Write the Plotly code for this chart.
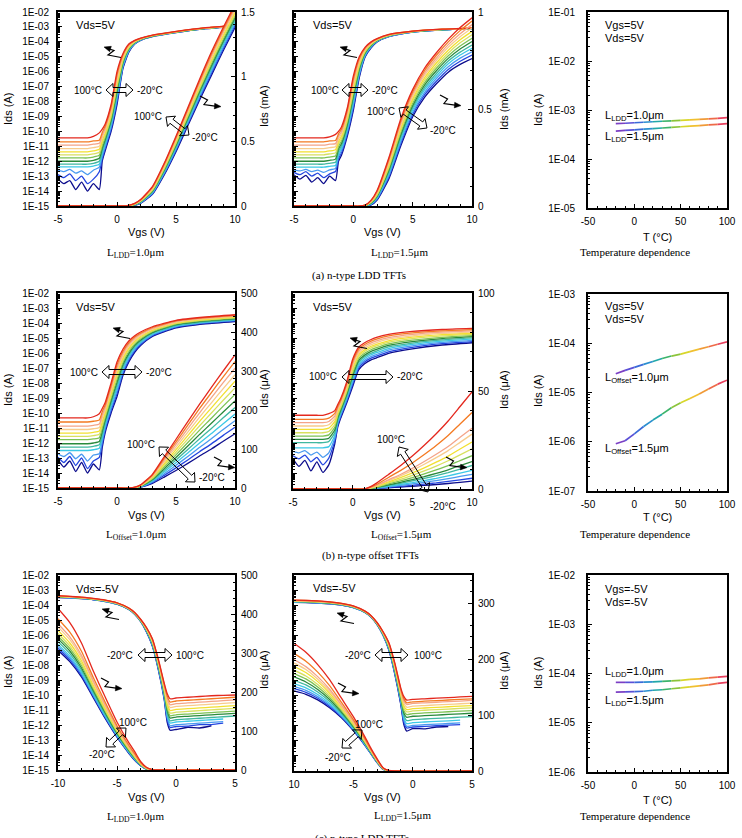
import plotly.graph_objects as go

W, H = 742, 838
SANS = "Liberation Sans, Arial, sans-serif"
SERIF = "Liberation Serif, Times New Roman, serif"

# ---------------- data ----------------
TEMPS = [-20, -10, 0, 10, 20, 30, 40, 50, 60, 70, 80, 90, 100]
CURVE_COLORS = ['#0c0c8c', '#2446e0', '#4a9af0', '#3cc8e6', '#40b8a0', '#2a8a3c', '#7cc254',
                '#d8e060', '#f2e030', '#f8cc8c', '#f4a488', '#f47a22', '#e4281e']
SEG_COLORS = ['#7b3fc4', '#5a4fd6', '#3a6ad8', '#2a8fcf', '#22a8a8', '#3cb46a',
              '#8cc43a', '#d8d62a', '#f0c030', '#f09a38', '#ee6a48', '#e8405e']

VGS_N = [-5, -4.5, -4, -3.5, -3, -2.5, -2, -1.5, -1.25, -1, -0.5, 0, 0.5, 1, 1.5, 2, 3, 5, 7.5, 10]
VGS_A_LIN = [-5, 0, 0.5, 1, 1.5, 2, 3, 4, 5, 6, 7, 8, 9, 10]
VGS_B_LIN = [-5, 0, 1, 1.5, 2, 3, 4, 5, 6, 7, 8, 9, 10]
VGS_P = [-10, -9, -8, -7, -6, -5, -4, -3.5, -3, -2.5, -2, -1.5, -1, -0.75, -0.5, 0, 1, 2, 3, 4, 5]
VGS_P_LIN = [-10, -9, -8, -7, -6, -5, -4, -3.5, -3, -2.5, -2, -1.5, 5]

# log10(Ids [A]) per temperature (-20 .. 100 C)
A1_LOG = [
    [-13.2, -13.5, -13.3, -13.9, -13.4, -14.0, -13.5, -13.9, -12.0, -11.3, -10.0, -8.2, -5.8, -4.7, -4.15, -3.9, -3.65, -3.38, -3.12, -2.97],
    [-12.9, -13.1, -12.85, -13.3, -13.0, -13.5, -13.2, -12.7, -11.82, -11.15, -9.85, -8.02, -5.72, -4.65, -4.13, -3.89, -3.64, -3.37, -3.11, -2.96],
    [-12.6, -12.7, -12.55, -12.8, -12.65, -12.9, -12.6, -12.4, -11.65, -11.0, -9.7, -7.83, -5.63, -4.61, -4.11, -3.88, -3.63, -3.37, -3.11, -2.96],
    [-12.38, -12.38, -12.38, -12.38, -12.38, -12.38, -12.32, -12.2, -11.47, -10.85, -9.55, -7.65, -5.55, -4.56, -4.09, -3.86, -3.62, -3.36, -3.1, -2.95],
    [-12.2, -12.2, -12.2, -12.2, -12.2, -12.2, -12.14, -12.0, -11.3, -10.7, -9.4, -7.47, -5.47, -4.52, -4.07, -3.85, -3.62, -3.35, -3.1, -2.95],
    [-12.0, -12.0, -12.0, -12.0, -12.0, -12.0, -11.94, -11.8, -11.12, -10.55, -9.25, -7.28, -5.38, -4.47, -4.05, -3.84, -3.61, -3.35, -3.09, -2.94],
    [-11.78, -11.78, -11.78, -11.78, -11.78, -11.78, -11.72, -11.6, -10.95, -10.4, -9.1, -7.1, -5.3, -4.43, -4.03, -3.83, -3.6, -3.34, -3.09, -2.94],
    [-11.57, -11.57, -11.57, -11.57, -11.57, -11.57, -11.51, -11.4, -10.77, -10.25, -8.95, -6.92, -5.22, -4.38, -4.0, -3.81, -3.59, -3.33, -3.08, -2.93],
    [-11.37, -11.37, -11.37, -11.37, -11.37, -11.37, -11.31, -11.2, -10.6, -10.1, -8.8, -6.73, -5.13, -4.33, -3.98, -3.8, -3.58, -3.33, -3.07, -2.92],
    [-11.15, -11.15, -11.15, -11.15, -11.15, -11.15, -11.09, -11.0, -10.42, -9.95, -8.65, -6.55, -5.05, -4.29, -3.96, -3.79, -3.57, -3.32, -3.07, -2.92],
    [-10.92, -10.92, -10.92, -10.92, -10.92, -10.92, -10.86, -10.8, -10.25, -9.8, -8.5, -6.37, -4.97, -4.24, -3.94, -3.78, -3.57, -3.31, -3.06, -2.91],
    [-10.7, -10.7, -10.7, -10.7, -10.7, -10.7, -10.64, -10.6, -10.07, -9.65, -8.35, -6.18, -4.88, -4.2, -3.92, -3.76, -3.56, -3.31, -3.06, -2.91],
    [-10.43, -10.43, -10.43, -10.43, -10.43, -10.43, -10.33, -10.1, -9.85, -9.5, -8.2, -6.0, -4.8, -4.15, -3.9, -3.75, -3.55, -3.3, -3.05, -2.9],
]
# Ids [mA]
A1_LIN = [
    [0, 0, 0, 0, 0.005, 0.02, 0.09, 0.24, 0.42, 0.62, 0.82, 1.01, 1.2, 1.38],
    [0, 0, 0, 0, 0.006, 0.023, 0.095, 0.248, 0.43, 0.632, 0.833, 1.025, 1.215, 1.395],
    [0, 0, 0, 0.001, 0.008, 0.025, 0.1, 0.255, 0.44, 0.643, 0.847, 1.04, 1.23, 1.41],
    [0, 0, 0, 0.001, 0.009, 0.028, 0.105, 0.263, 0.45, 0.655, 0.86, 1.055, 1.245, 1.425],
    [0, 0, 0, 0.002, 0.01, 0.03, 0.11, 0.27, 0.46, 0.667, 0.873, 1.07, 1.26, 1.44],
    [0, 0, 0, 0.002, 0.011, 0.033, 0.115, 0.278, 0.47, 0.678, 0.887, 1.085, 1.275, 1.455],
    [0, 0, 0, 0.003, 0.013, 0.035, 0.12, 0.285, 0.48, 0.69, 0.9, 1.1, 1.29, 1.47],
    [0, 0, 0, 0.003, 0.014, 0.038, 0.125, 0.293, 0.49, 0.702, 0.913, 1.115, 1.305, 1.485],
    [0, 0, 0, 0.003, 0.015, 0.04, 0.13, 0.3, 0.5, 0.713, 0.927, 1.13, 1.32, 1.5],
    [0, 0, 0, 0.004, 0.016, 0.043, 0.135, 0.308, 0.51, 0.725, 0.94, 1.145, 1.335, 1.515],
    [0, 0, 0, 0.004, 0.018, 0.045, 0.14, 0.315, 0.52, 0.737, 0.953, 1.16, 1.35, 1.53],
    [0, 0, 0, 0.005, 0.019, 0.048, 0.145, 0.323, 0.53, 0.748, 0.967, 1.175, 1.365, 1.545],
    [0, 0, 0, 0.005, 0.02, 0.05, 0.15, 0.33, 0.54, 0.76, 0.98, 1.19, 1.38, 1.56],
]
A2_LOG = [
    [-12.9, -13.2, -12.95, -13.4, -13.1, -13.5, -13.0, -13.3, -12.0, -11.6, -10.3, -8.6, -6.4, -5.0, -4.4, -4.0, -3.65, -3.35, -3.2, -3.12],
    [-12.75, -12.9, -12.7, -13.0, -12.8, -13.1, -12.85, -12.69, -11.83, -11.44, -10.14, -8.41, -6.28, -4.95, -4.37, -3.98, -3.64, -3.34, -3.2, -3.12],
    [-12.6, -12.65, -12.55, -12.7, -12.6, -12.75, -12.58, -12.48, -11.67, -11.28, -9.98, -8.22, -6.17, -4.89, -4.33, -3.96, -3.63, -3.34, -3.19, -3.11],
    [-12.4, -12.4, -12.4, -12.4, -12.4, -12.4, -12.34, -12.28, -11.5, -11.13, -9.83, -8.03, -6.05, -4.84, -4.3, -3.95, -3.61, -3.33, -3.19, -3.11],
    [-12.2, -12.2, -12.2, -12.2, -12.2, -12.2, -12.14, -12.07, -11.33, -10.97, -9.67, -7.83, -5.93, -4.78, -4.27, -3.93, -3.6, -3.33, -3.18, -3.11],
    [-12.0, -12.0, -12.0, -12.0, -12.0, -12.0, -11.94, -11.86, -11.17, -10.81, -9.51, -7.64, -5.82, -4.73, -4.23, -3.91, -3.59, -3.32, -3.18, -3.1],
    [-11.78, -11.78, -11.78, -11.78, -11.78, -11.78, -11.72, -11.65, -11.0, -10.65, -9.35, -7.45, -5.7, -4.68, -4.2, -3.89, -3.58, -3.32, -3.18, -3.1],
    [-11.57, -11.57, -11.57, -11.57, -11.57, -11.57, -11.51, -11.44, -10.83, -10.49, -9.19, -7.26, -5.58, -4.62, -4.17, -3.87, -3.56, -3.31, -3.17, -3.1],
    [-11.37, -11.37, -11.37, -11.37, -11.37, -11.37, -11.31, -11.23, -10.67, -10.33, -9.03, -7.07, -5.47, -4.57, -4.13, -3.85, -3.55, -3.3, -3.17, -3.09],
    [-11.15, -11.15, -11.15, -11.15, -11.15, -11.15, -11.09, -11.03, -10.5, -10.18, -8.88, -6.88, -5.35, -4.51, -4.1, -3.84, -3.54, -3.3, -3.16, -3.09],
    [-10.92, -10.92, -10.92, -10.92, -10.92, -10.92, -10.86, -10.82, -10.33, -10.02, -8.72, -6.68, -5.23, -4.46, -4.07, -3.82, -3.53, -3.29, -3.16, -3.08],
    [-10.7, -10.7, -10.7, -10.7, -10.7, -10.7, -10.64, -10.61, -10.17, -9.86, -8.56, -6.49, -5.12, -4.4, -4.03, -3.8, -3.51, -3.29, -3.15, -3.08],
    [-10.43, -10.43, -10.43, -10.43, -10.43, -10.43, -10.36, -10.2, -10.0, -9.7, -8.4, -6.3, -5.0, -4.35, -4.0, -3.78, -3.5, -3.28, -3.15, -3.08],
]
A2_LIN = [
    [0, 0, 0, 0, 0.005, 0.03, 0.14, 0.31, 0.46, 0.56, 0.63, 0.69, 0.73, 0.76],
    [0, 0, 0, 0, 0.007, 0.034, 0.149, 0.322, 0.472, 0.573, 0.643, 0.704, 0.746, 0.778],
    [0, 0, 0, 0.001, 0.009, 0.038, 0.158, 0.333, 0.483, 0.585, 0.657, 0.718, 0.762, 0.795],
    [0, 0, 0, 0.001, 0.011, 0.043, 0.168, 0.345, 0.495, 0.598, 0.67, 0.733, 0.778, 0.813],
    [0, 0, 0, 0.002, 0.013, 0.047, 0.177, 0.357, 0.507, 0.61, 0.683, 0.747, 0.793, 0.83],
    [0, 0, 0, 0.002, 0.015, 0.051, 0.186, 0.368, 0.518, 0.623, 0.697, 0.761, 0.809, 0.848],
    [0, 0, 0, 0.003, 0.018, 0.055, 0.195, 0.38, 0.53, 0.635, 0.71, 0.775, 0.825, 0.865],
    [0, 0, 0, 0.003, 0.02, 0.059, 0.204, 0.392, 0.542, 0.648, 0.723, 0.789, 0.841, 0.883],
    [0, 0, 0, 0.003, 0.022, 0.063, 0.213, 0.403, 0.553, 0.66, 0.737, 0.803, 0.857, 0.9],
    [0, 0, 0, 0.004, 0.024, 0.068, 0.223, 0.415, 0.565, 0.673, 0.75, 0.818, 0.873, 0.918],
    [0, 0, 0, 0.004, 0.026, 0.072, 0.232, 0.427, 0.577, 0.685, 0.763, 0.832, 0.888, 0.935],
    [0, 0, 0, 0.005, 0.028, 0.076, 0.241, 0.438, 0.588, 0.698, 0.777, 0.846, 0.904, 0.953],
    [0, 0, 0, 0.005, 0.03, 0.08, 0.25, 0.45, 0.6, 0.71, 0.79, 0.86, 0.92, 0.97],
]
B1_LOG = [
    [-13.1, -13.6, -13.2, -13.9, -13.3, -14.0, -13.4, -13.8, -12.3, -11.3, -10.0, -8.9, -7.5, -6.6, -5.95, -5.5, -4.9, -4.32, -4.05, -3.9],
    [-12.95, -13.3, -12.9, -13.5, -13.0, -13.7, -13.2, -12.96, -12.08, -11.13, -9.83, -8.71, -7.35, -6.48, -5.86, -5.43, -4.85, -4.28, -4.01, -3.86],
    [-12.72, -12.9, -12.65, -13.05, -12.75, -13.2, -12.8, -12.72, -11.87, -10.97, -9.67, -8.52, -7.21, -6.37, -5.77, -5.35, -4.79, -4.24, -3.98, -3.83],
    [-12.5, -12.5, -12.5, -12.5, -12.5, -12.5, -12.45, -12.35, -11.65, -10.8, -9.5, -8.33, -7.06, -6.25, -5.68, -5.28, -4.74, -4.2, -3.94, -3.79],
    [-12.27, -12.27, -12.27, -12.27, -12.27, -12.27, -12.22, -12.12, -11.43, -10.63, -9.33, -8.13, -6.92, -6.13, -5.58, -5.2, -4.68, -4.15, -3.9, -3.75],
    [-12.05, -12.05, -12.05, -12.05, -12.05, -12.05, -12.0, -11.9, -11.22, -10.47, -9.17, -7.94, -6.77, -6.02, -5.49, -5.13, -4.63, -4.11, -3.86, -3.71],
    [-11.78, -11.78, -11.78, -11.78, -11.78, -11.78, -11.73, -11.65, -11.0, -10.3, -9.0, -7.75, -6.63, -5.9, -5.4, -5.05, -4.58, -4.07, -3.83, -3.68],
    [-11.56, -11.56, -11.56, -11.56, -11.56, -11.56, -11.51, -11.42, -10.78, -10.13, -8.83, -7.56, -6.48, -5.78, -5.31, -4.98, -4.52, -4.03, -3.79, -3.64],
    [-11.34, -11.34, -11.34, -11.34, -11.34, -11.34, -11.29, -11.2, -10.57, -9.97, -8.67, -7.37, -6.33, -5.67, -5.22, -4.9, -4.47, -3.99, -3.75, -3.6],
    [-11.1, -11.1, -11.1, -11.1, -11.1, -11.1, -11.05, -10.97, -10.35, -9.8, -8.5, -7.18, -6.19, -5.55, -5.13, -4.83, -4.41, -3.95, -3.71, -3.56],
    [-10.87, -10.87, -10.87, -10.87, -10.87, -10.87, -10.82, -10.74, -10.13, -9.63, -8.33, -6.98, -6.04, -5.43, -5.03, -4.75, -4.36, -3.9, -3.68, -3.53],
    [-10.6, -10.6, -10.6, -10.6, -10.6, -10.6, -10.55, -10.47, -9.92, -9.47, -8.17, -6.79, -5.9, -5.32, -4.94, -4.68, -4.3, -3.86, -3.64, -3.49],
    [-10.33, -10.33, -10.33, -10.33, -10.33, -10.33, -10.25, -10.05, -9.7, -9.3, -8.0, -6.6, -5.75, -5.2, -4.85, -4.6, -4.25, -3.82, -3.6, -3.45],
]
# Ids [uA]
B1_LIN = [
    [0, 0, 0, 0, 2, 12, 28, 45, 63, 82, 100, 120, 139],
    [0, 0, 0, 0.2, 2.5, 13.9, 32.3, 51.7, 71.9, 93.1, 113.2, 135, 155.8],
    [0, 0, 0, 0.3, 3, 15.8, 36.7, 58.3, 80.8, 104.2, 126.3, 150, 172.7],
    [0, 0, 0, 0.5, 3.5, 17.8, 41, 65, 89.8, 115.3, 139.5, 165, 189.5],
    [0, 0, 0, 0.7, 4, 19.7, 45.3, 71.7, 98.7, 126.3, 152.7, 180, 206.3],
    [0, 0, 0, 0.8, 4.5, 21.6, 49.7, 78.3, 107.6, 137.4, 165.8, 195, 223.2],
    [0, 0, 0, 1, 5, 23.5, 54, 85, 116.5, 148.5, 179, 210, 240],
    [0, 0, 0, 1.2, 5.5, 25.4, 58.3, 91.7, 125.4, 159.6, 192.2, 225, 256.8],
    [0, 0, 0, 1.3, 6, 27.3, 62.7, 98.3, 134.3, 170.7, 205.3, 240, 273.7],
    [0, 0, 0, 1.5, 6.5, 29.3, 67, 105, 143.3, 181.8, 218.5, 255, 290.5],
    [0, 0, 0, 1.7, 7, 31.2, 71.3, 111.7, 152.2, 192.8, 231.7, 270, 307.3],
    [0, 0, 0, 1.8, 7.5, 33.1, 75.7, 118.3, 161.1, 203.9, 244.8, 285, 324.2],
    [0, 0, 0, 2, 8, 35, 80, 125, 170, 215, 258, 300, 341],
]
B2_LOG = [
    [-13.0, -13.5, -13.1, -13.8, -13.2, -13.9, -13.4, -12.0, -10.9, -10.3, -9.3, -8.2, -7.1, -6.7, -6.45, -6.3, -6.0, -5.7, -5.45, -5.3],
    [-12.8, -13.0, -12.75, -13.2, -12.9, -13.4, -12.95, -11.82, -10.78, -10.19, -9.18, -8.05, -6.98, -6.58, -6.34, -6.19, -5.9, -5.6, -5.36, -5.22],
    [-12.5, -12.6, -12.45, -12.75, -12.55, -12.9, -12.6, -11.63, -10.65, -10.08, -9.07, -7.9, -6.85, -6.47, -6.23, -6.08, -5.79, -5.51, -5.28, -5.14],
    [-12.27, -12.27, -12.27, -12.27, -12.27, -12.27, -12.19, -11.45, -10.53, -9.98, -8.95, -7.75, -6.73, -6.35, -6.11, -5.96, -5.69, -5.41, -5.19, -5.06],
    [-11.93, -11.93, -11.93, -11.93, -11.93, -11.93, -11.85, -11.27, -10.4, -9.87, -8.83, -7.6, -6.6, -6.23, -6.0, -5.85, -5.58, -5.32, -5.11, -4.98],
    [-11.71, -11.71, -11.71, -11.71, -11.71, -11.71, -11.63, -11.08, -10.28, -9.76, -8.72, -7.45, -6.48, -6.12, -5.89, -5.74, -5.48, -5.22, -5.02, -4.9],
    [-11.49, -11.49, -11.49, -11.49, -11.49, -11.49, -11.41, -10.9, -10.15, -9.65, -8.6, -7.3, -6.35, -6.0, -5.78, -5.63, -5.38, -5.13, -4.94, -4.83],
    [-11.27, -11.27, -11.27, -11.27, -11.27, -11.27, -11.19, -10.72, -10.03, -9.54, -8.48, -7.15, -6.23, -5.88, -5.66, -5.51, -5.27, -5.03, -4.85, -4.75],
    [-11.04, -11.04, -11.04, -11.04, -11.04, -11.04, -10.96, -10.53, -9.9, -9.43, -8.37, -7.0, -6.1, -5.77, -5.55, -5.4, -5.17, -4.93, -4.76, -4.67],
    [-10.82, -10.82, -10.82, -10.82, -10.82, -10.82, -10.74, -10.35, -9.78, -9.33, -8.25, -6.85, -5.98, -5.65, -5.44, -5.29, -5.06, -4.84, -4.68, -4.59],
    [-10.6, -10.6, -10.6, -10.6, -10.6, -10.6, -10.52, -10.17, -9.65, -9.22, -8.13, -6.7, -5.85, -5.53, -5.33, -5.18, -4.96, -4.74, -4.59, -4.51],
    [-10.38, -10.38, -10.38, -10.38, -10.38, -10.38, -10.3, -9.98, -9.53, -9.11, -8.02, -6.55, -5.73, -5.42, -5.21, -5.06, -4.85, -4.65, -4.51, -4.43],
    [-10.11, -10.11, -10.11, -10.11, -10.11, -10.11, -10.0, -9.8, -9.4, -9.0, -7.9, -6.4, -5.6, -5.3, -5.1, -4.95, -4.75, -4.55, -4.42, -4.35],
]
B2_LIN = [
    [0, 0, 0, 0.1, 0.24, 0.6, 1.0, 1.4, 1.8, 2.3, 2.8, 3.4, 4],
    [0, 0, 0, 0.14, 0.33, 0.8, 1.3, 1.9, 2.5, 3.1, 3.9, 4.7, 5.5],
    [0, 0, 0, 0.19, 0.45, 1.1, 1.8, 2.6, 3.4, 4.3, 5.3, 6.4, 7.5],
    [0, 0, 0, 0.24, 0.57, 1.4, 2.3, 3.2, 4.3, 5.4, 6.7, 8.1, 9.5],
    [0, 0, 0, 0.3, 0.72, 1.8, 2.9, 4.1, 5.4, 6.8, 8.4, 10.2, 12],
    [0, 0, 0, 0.35, 0.84, 2.1, 3.4, 4.8, 6.3, 8.0, 9.8, 11.9, 14],
    [0, 0, 0, 0.4, 1.0, 2.6, 4.1, 5.8, 7.7, 9.7, 11.9, 14.5, 17],
    [0, 0, 0, 0.5, 1.2, 3.1, 4.9, 7.0, 9.2, 11.7, 14.4, 17.4, 20.5],
    [0, 0, 0, 0.6, 1.4, 3.6, 5.8, 8.2, 10.8, 13.7, 16.8, 20.4, 24],
    [0, 0, 0, 0.7, 1.7, 4.2, 6.7, 9.5, 12.6, 16.0, 19.6, 23.8, 28],
    [0, 0, 0, 0.8, 1.9, 4.7, 7.4, 10.5, 14.0, 17.7, 21.7, 26.4, 31],
    [0, 0, 0, 1.0, 2.3, 5.9, 9.4, 13.3, 17.6, 22.2, 27.3, 33.2, 39],
    [0, 0, 0, 1.2, 3.0, 7.4, 11.9, 16.8, 22.3, 28.2, 34.7, 42.1, 49.5],
]
C1_LOG = [
    [-3.5, -3.53, -3.58, -3.65, -3.77, -3.95, -4.3, -4.62, -5.1, -5.8, -6.75, -8.3, -10.3, -11.8, -12.35, -12.3, -12.15, -12.2, -12.05, None, None],
    [-3.49, -3.52, -3.57, -3.64, -3.76, -3.94, -4.29, -4.61, -5.09, -5.78, -6.71, -8.24, -10.21, -11.64, -12.17, -12.1, -12.08, -11.98, -11.97, -11.88, None],
    [-3.48, -3.51, -3.56, -3.64, -3.75, -3.93, -4.28, -4.6, -5.08, -5.75, -6.67, -8.18, -10.12, -11.48, -12.05, -11.98, -11.93, -11.88, -11.83, -11.78, None],
    [-3.47, -3.5, -3.56, -3.63, -3.75, -3.93, -4.28, -4.59, -5.06, -5.73, -6.63, -8.13, -10.03, -11.33, -11.87, -11.8, -11.75, -11.7, -11.65, -11.6, None],
    [-3.46, -3.49, -3.55, -3.62, -3.74, -3.92, -4.27, -4.58, -5.05, -5.7, -6.58, -8.07, -9.93, -11.17, -11.72, -11.65, -11.6, -11.55, -11.5, -11.45, -11.4],
    [-3.45, -3.48, -3.54, -3.61, -3.73, -3.91, -4.26, -4.57, -5.04, -5.68, -6.54, -8.01, -9.84, -11.01, -11.54, -11.47, -11.42, -11.37, -11.32, -11.27, -11.22],
    [-3.44, -3.48, -3.53, -3.61, -3.72, -3.9, -4.25, -4.56, -5.03, -5.65, -6.5, -7.95, -9.75, -10.85, -11.39, -11.32, -11.27, -11.22, -11.17, -11.12, -11.07],
    [-3.43, -3.47, -3.52, -3.6, -3.71, -3.89, -4.24, -4.55, -5.01, -5.63, -6.46, -7.89, -9.66, -10.69, -11.21, -11.14, -11.09, -11.04, -10.99, -10.94, -10.89],
    [-3.42, -3.46, -3.51, -3.59, -3.7, -3.88, -4.23, -4.54, -5.0, -5.6, -6.42, -7.83, -9.57, -10.53, -11.03, -10.96, -10.91, -10.86, -10.81, -10.76, -10.71],
    [-3.41, -3.45, -3.51, -3.58, -3.7, -3.88, -4.23, -4.53, -4.99, -5.58, -6.38, -7.78, -9.48, -10.38, -10.83, -10.76, -10.71, -10.66, -10.61, -10.56, -10.51],
    [-3.4, -3.44, -3.5, -3.58, -3.69, -3.87, -4.22, -4.52, -4.98, -5.55, -6.33, -7.72, -9.38, -10.22, -10.65, -10.58, -10.53, -10.48, -10.43, -10.38, -10.33],
    [-3.39, -3.43, -3.49, -3.57, -3.68, -3.86, -4.21, -4.51, -4.96, -5.53, -6.29, -7.66, -9.29, -10.06, -10.47, -10.4, -10.35, -10.3, -10.25, -10.2, -10.15],
    [-3.38, -3.42, -3.48, -3.56, -3.67, -3.85, -4.2, -4.5, -4.95, -5.5, -6.25, -7.6, -9.2, -9.9, -10.25, -10.2, -10.15, -10.1, -10.05, -10.02, -10.0],
]
C1_LIN = [
    [307, 278, 238, 185, 132, 84, 43, 25, 11, 2, 0, 0, 0],
    [312, 282.7, 242.1, 188.2, 134.6, 85.8, 44.3, 26, 11.5, 2.2, 0, 0, 0],
    [317, 287.3, 246.1, 191.3, 137.1, 87.6, 45.5, 27, 12, 2.5, 0.1, 0, 0],
    [322, 292, 250.2, 194.5, 139.7, 89.5, 46.8, 28.1, 12.5, 2.7, 0.1, 0, 0],
    [329, 298.6, 255.9, 199, 143.3, 92, 48.6, 29.5, 13.3, 3, 0.2, 0, 0],
    [336, 305.1, 261.6, 203.4, 146.9, 94.6, 50.3, 31, 14, 3.4, 0.3, 0, 0],
    [343, 311.6, 267.2, 207.8, 150.5, 97.1, 52.1, 32.4, 14.7, 3.7, 0.3, 0, 0],
    [350, 318.2, 273, 212.3, 154.1, 99.7, 53.9, 33.8, 15.4, 4, 0.4, 0, 0],
    [358, 325.7, 279.5, 217.4, 158.2, 102.6, 55.9, 35.5, 16.2, 4.4, 0.5, 0, 0],
    [367, 334.1, 286.8, 223.1, 162.9, 105.9, 58.1, 37.3, 17.2, 4.8, 0.6, 0, 0],
    [375, 341.6, 293.3, 228.2, 167, 108.8, 60.2, 39, 18, 5.2, 0.6, 0, 0],
    [388, 353.7, 303.9, 236.5, 173.6, 113.5, 63.4, 41.7, 19.3, 5.8, 0.8, 0, 0],
    [414, 378, 325, 253, 187, 123, 70, 47, 22, 7, 1, 0, 0],
]
C2_LOG = [
    [-3.82, -3.83, -3.86, -3.91, -4.0, -4.17, -4.5, -4.8, -5.3, -6.0, -7.0, -8.6, -10.6, -11.9, -12.35, -12.19, -12.2, -12.08, -12.05, None, None],
    [-3.81, -3.82, -3.85, -3.9, -3.99, -4.16, -4.49, -4.79, -5.29, -5.98, -6.96, -8.54, -10.51, -11.75, -12.15, -12.08, -12.04, -12.0, -11.96, -11.92, None],
    [-3.79, -3.81, -3.84, -3.89, -3.98, -4.15, -4.48, -4.78, -5.28, -5.96, -6.92, -8.48, -10.42, -11.59, -12.04, -11.97, -11.93, -11.89, -11.85, -11.81, None],
    [-3.78, -3.79, -3.83, -3.88, -3.97, -4.14, -4.48, -4.78, -5.26, -5.94, -6.88, -8.41, -10.33, -11.44, -11.86, -11.79, -11.75, -11.71, -11.67, -11.63, None],
    [-3.77, -3.78, -3.81, -3.87, -3.96, -4.13, -4.47, -4.77, -5.25, -5.92, -6.83, -8.35, -10.23, -11.28, -11.66, -11.59, -11.55, -11.51, -11.47, -11.43, -11.39],
    [-3.75, -3.77, -3.8, -3.86, -3.95, -4.12, -4.46, -4.76, -5.24, -5.9, -6.79, -8.29, -10.14, -11.13, -11.44, -11.37, -11.33, -11.29, -11.25, -11.21, -11.17],
    [-3.74, -3.76, -3.79, -3.85, -3.94, -4.11, -4.45, -4.75, -5.23, -5.88, -6.75, -8.23, -10.05, -10.98, -11.26, -11.19, -11.15, -11.11, -11.07, -11.03, -10.99],
    [-3.73, -3.74, -3.78, -3.83, -3.93, -4.1, -4.44, -4.74, -5.21, -5.85, -6.71, -8.16, -9.96, -10.82, -11.08, -11.01, -10.97, -10.93, -10.89, -10.85, -10.81],
    [-3.71, -3.73, -3.77, -3.82, -3.92, -4.09, -4.43, -4.73, -5.2, -5.83, -6.67, -8.1, -9.87, -10.67, -10.93, -10.86, -10.82, -10.78, -10.74, -10.7, -10.66],
    [-3.7, -3.72, -3.76, -3.81, -3.91, -4.08, -4.43, -4.73, -5.19, -5.81, -6.63, -8.04, -9.78, -10.51, -10.77, -10.7, -10.66, -10.62, -10.58, -10.54, -10.5],
    [-3.69, -3.71, -3.74, -3.8, -3.9, -4.07, -4.42, -4.72, -5.18, -5.79, -6.58, -7.98, -9.68, -10.36, -10.59, -10.52, -10.48, -10.44, -10.4, -10.36, -10.32],
    [-3.67, -3.69, -3.73, -3.79, -3.89, -4.06, -4.41, -4.71, -5.16, -5.77, -6.54, -7.91, -9.59, -10.2, -10.48, -10.41, -10.37, -10.33, -10.29, -10.25, -10.21],
    [-3.66, -3.68, -3.72, -3.78, -3.88, -4.05, -4.4, -4.7, -5.15, -5.75, -6.5, -7.85, -9.5, -10.05, -10.3, -10.25, -10.21, -10.17, -10.13, -10.09, -10.05],
]
C2_LIN = [
    [143, 137, 127, 113, 95, 72, 45, 30, 15, 3, 0, 0, 0],
    [147, 140.5, 130, 115.4, 96.6, 73.2, 45.7, 30.5, 15.3, 3.1, 0, 0, 0],
    [151, 144, 132.9, 117.7, 98.3, 74.4, 46.4, 30.9, 15.7, 3.3, 0.1, 0, 0],
    [156, 148.5, 136.6, 120.7, 100.4, 75.8, 47.3, 31.5, 16.1, 3.5, 0.2, 0, 0],
    [162, 153.8, 141.1, 124.2, 102.8, 77.6, 48.4, 32.2, 16.6, 3.7, 0.2, 0, 0],
    [168, 159, 145.5, 127.7, 105.3, 79.4, 49.4, 32.9, 17.1, 3.9, 0.3, 0, 0],
    [174, 164.4, 150, 131.3, 107.8, 81.1, 50.5, 33.7, 17.6, 4.1, 0.4, 0, 0],
    [180, 169.6, 154.4, 134.8, 110.2, 82.9, 51.5, 34.4, 18, 4.3, 0.4, 0, 0],
    [187, 175.9, 159.6, 138.9, 113.1, 85, 52.8, 35.2, 18.6, 4.6, 0.5, 0, 0],
    [193, 181.1, 164, 142.4, 115.6, 86.7, 53.8, 35.9, 19.1, 4.8, 0.6, 0, 0],
    [199, 186.4, 168.5, 146, 118.1, 88.5, 54.9, 36.6, 19.6, 5, 0.7, 0, 0],
    [210, 196.1, 176.6, 152.4, 122.6, 91.7, 56.8, 37.9, 20.5, 5.4, 0.8, 0, 0],
    [228, 212, 190, 163, 130, 97, 60, 40, 22, 6, 1, 0, 0],
]
# temperature dependence, log10(Ids [A])
A3_LDD10 = [-3.28, -3.27, -3.26, -3.25, -3.24, -3.23, -3.22, -3.21, -3.2, -3.19, -3.18, -3.17, -3.156]
A3_LDD15 = [-3.43, -3.417, -3.405, -3.392, -3.38, -3.367, -3.355, -3.342, -3.33, -3.317, -3.305, -3.292, -3.28]
B3_OFF10 = [-4.62, -4.55, -4.49, -4.43, -4.37, -4.31, -4.26, -4.22, -4.17, -4.12, -4.07, -4.02, -3.97]
B3_OFF15 = [-6.04, -5.98, -5.84, -5.69, -5.56, -5.44, -5.31, -5.21, -5.12, -5.03, -4.93, -4.83, -4.75]
C3_LDD10 = [-4.18, -4.18, -4.18, -4.175, -4.17, -4.16, -4.15, -4.14, -4.12, -4.11, -4.09, -4.075, -4.06]
C3_LDD15 = [-4.38, -4.375, -4.37, -4.36, -4.34, -4.33, -4.31, -4.29, -4.27, -4.25, -4.23, -4.2, -4.18]

# tick labels
LOG_N_TEXT = ["1E-15", "1E-14", "1E-13", "1E-12", "1E-11", "1E-10", "1E-09", "1E-08",
              "1E-07", "1E-06", "1E-05", "1E-04", "1E-03", "1E-02"]
LOG_A3_TEXT = ["1E-05", "1E-04", "1E-03", "1E-02", "1E-01"]
LOG_B3_TEXT = ["1E-07", "1E-06", "1E-05", "1E-04", "1E-03"]
LOG_C3_TEXT = ["1E-06", "1E-05", "1E-04", "1E-03", "1E-02"]
X_N_TEXT = ["-5", "0", "5", "10"]
X_P1_TEXT = ["-10", "-5", "0", "5"]
X_P2_TEXT = ["10", "-5", "0", "5"]
X_T_TEXT = ["-50", "0", "50", "100"]

# ---------------- layout helpers ----------------
def aid(letter, i):
    return letter if i == 1 else f"{letter}{i}"


def akey(letter, i):
    return f"{letter}axis" if i == 1 else f"{letter}axis{i}"


def dom(b):
    x0, y0, x1, y1 = b
    return [x0 / W, x1 / W], [1 - y1 / H, 1 - y0 / H]


TF = dict(family=SANS, size=10, color="black")

panels = [
    dict(box=(58, 12, 235, 206), xr=[-5, 10], xt=[-5, 0, 5, 10], xtt=X_N_TEXT, xm=list(range(-5, 11)),
         ye=(-15, -2), ytt=LOG_N_TEXT, ylab=True, log=A1_LOG, xg=VGS_N,
         lin=A1_LIN, xgl=VGS_A_LIN, lr=[0, 1.5], lt=[0, 0.5, 1, 1.5], ltt=["0", "0.5", "1", "1.5"],
         lm=[v / 10 for v in range(16)]),
    dict(box=(294, 12, 472, 206), xr=[-5, 10], xt=[-5, 0, 5, 10], xtt=X_N_TEXT, xm=list(range(-5, 11)),
         ye=(-15, -2), ytt=LOG_N_TEXT, ylab=False, log=A2_LOG, xg=VGS_N,
         lin=A2_LIN, xgl=VGS_A_LIN, lr=[0, 1.0], lt=[0, 0.5, 1], ltt=["0", "0.5", "1"],
         lm=[v / 10 for v in range(11)]),
    dict(box=(588, 12, 727, 208), xr=[-50, 100], xt=[-50, 0, 50, 100], xtt=X_T_TEXT, xm=list(range(-50, 101, 10)),
         ye=(-5, -1), ytt=LOG_A3_TEXT, ylab=True, temp=(A3_LDD10, A3_LDD15)),
    dict(box=(58, 293, 235, 488), xr=[-5, 10], xt=[-5, 0, 5, 10], xtt=X_N_TEXT, xm=list(range(-5, 11)),
         ye=(-15, -2), ytt=LOG_N_TEXT, ylab=True, log=B1_LOG, xg=VGS_N,
         lin=B1_LIN, xgl=VGS_B_LIN, lr=[0, 500], lt=[0, 100, 200, 300, 400, 500],
         ltt=["0", "100", "200", "300", "400", "500"], lm=list(range(0, 501, 20))),
    dict(box=(293, 293, 472, 489), xr=[-5, 10], xt=[-5, 0, 5, 10], xtt=X_N_TEXT, xm=list(range(-5, 11)),
         ye=(-15, -2), ytt=LOG_N_TEXT, ylab=False, log=B2_LOG, xg=VGS_N,
         lin=B2_LIN, xgl=VGS_B_LIN, lr=[0, 100], lt=[0, 50, 100], ltt=["0", "50", "100"],
         lm=list(range(0, 101, 10))),
    dict(box=(588, 294, 727, 491), xr=[-50, 100], xt=[-50, 0, 50, 100], xtt=X_T_TEXT, xm=list(range(-50, 101, 10)),
         ye=(-7, -3), ytt=LOG_B3_TEXT, ylab=True, temp=(B3_OFF10, B3_OFF15)),
    dict(box=(58, 575, 235, 770), xr=[-10, 5], xt=[-10, -5, 0, 5], xtt=X_P1_TEXT, xm=list(range(-10, 6)),
         ye=(-15, -2), ytt=LOG_N_TEXT, ylab=True, log=C1_LOG, xg=VGS_P,
         lin=C1_LIN, xgl=VGS_P_LIN, lr=[0, 500], lt=[0, 100, 200, 300, 400, 500],
         ltt=["0", "100", "200", "300", "400", "500"], lm=list(range(0, 501, 20))),
    dict(box=(294, 575, 472, 771), xr=[-10, 5], xt=[-10, -5, 0, 5], xtt=X_P2_TEXT, xm=list(range(-10, 6)),
         ye=(-15, -2), ytt=LOG_N_TEXT, ylab=False, log=C2_LOG, xg=VGS_P,
         lin=C2_LIN, xgl=VGS_P_LIN, lr=[0, 350], lt=[0, 100, 200, 300], ltt=["0", "100", "200", "300"],
         lm=list(range(0, 351, 20))),
    dict(box=(588, 575, 727, 772), xr=[-50, 100], xt=[-50, 0, 50, 100], xtt=X_T_TEXT, xm=list(range(-50, 101, 10)),
         ye=(-6, -2), ytt=LOG_C3_TEXT, ylab=True, temp=(C3_LDD10, C3_LDD15)),
]

fig = go.Figure()
layout = {}
right_idx = 10

for i, p in enumerate(panels, start=1):
    xd, yd = dom(p["box"])
    e0, e1 = p["ye"]
    dec = list(range(e0, e1 + 1))
    is_temp = "temp" in p
    layout[akey("x", i)] = dict(
        domain=xd, range=p["xr"], anchor=aid("y", i), tickmode="array", tickvals=p["xt"], ticktext=p["xtt"],
        ticks="inside", ticklen=4, tickwidth=1, tickcolor="black",
        minor=dict(tickmode="array", tickvals=p["xm"], ticks="inside", ticklen=2.5, tickwidth=1, tickcolor="black"),
        showline=True, linewidth=2, linecolor="black", mirror=True, showgrid=False, zeroline=False,
        tickfont=TF, ticklabelstandoff=3, automargin=False, fixedrange=True)
    minor_log = [m * 10.0 ** e for e in dec[:-1] for m in range(2, 10)]
    layout[akey("y", i)] = dict(
        domain=yd, type="log", range=[e0, e1], anchor=aid("x", i), tickmode="array",
        tickvals=[10.0 ** e for e in dec], ticktext=p["ytt"], showticklabels=p["ylab"],
        ticks="inside", ticklen=4, tickwidth=1, tickcolor="black",
        minor=dict(tickmode="array", tickvals=minor_log, ticks="inside", ticklen=2, tickwidth=1, tickcolor="black"),
        showline=True, linewidth=2, linecolor="black", mirror=True, showgrid=False, zeroline=False,
        tickfont=TF, ticklabelstandoff=(9 if is_temp else 5), automargin=False, fixedrange=True)

    if is_temp:
        for series in p["temp"]:
            for s in range(len(TEMPS) - 1):
                fig.add_trace(go.Scatter(
                    x=[TEMPS[s], TEMPS[s + 1]], y=[10 ** series[s], 10 ** series[s + 1]],
                    xaxis=aid("x", i), yaxis=aid("y", i), mode="lines",
                    line=dict(color=SEG_COLORS[s], width=1.7), hoverinfo="skip", showlegend=False))
        continue

    r = right_idx
    right_idx += 1
    layout[akey("y", r)] = dict(
        range=p["lr"], overlaying=aid("y", i), side="right", anchor=aid("x", i), tickmode="array",
        tickvals=p["lt"], ticktext=p["ltt"], ticks="inside", ticklen=4, tickwidth=1, tickcolor="black",
        minor=dict(tickmode="array", tickvals=p["lm"], ticks="inside", ticklen=2, tickwidth=1, tickcolor="black"),
        showline=False, showgrid=False, zeroline=False, tickfont=TF, ticklabelstandoff=5,
        automargin=False, fixedrange=True)

    for k in range(len(TEMPS)):
        fig.add_trace(go.Scatter(
            x=p["xg"], y=[None if v is None else 10 ** v for v in p["log"][k]],
            xaxis=aid("x", i), yaxis=aid("y", i), mode="lines",
            line=dict(color=CURVE_COLORS[k], width=1.3, shape="spline", smoothing=0.5),
            hoverinfo="skip", showlegend=False))
    for k in range(len(TEMPS)):
        fig.add_trace(go.Scatter(
            x=p["xgl"], y=p["lin"][k],
            xaxis=aid("x", i), yaxis=aid("y", r), mode="lines",
            line=dict(color=CURVE_COLORS[k], width=1.3, shape="spline", smoothing=0.5),
            hoverinfo="skip", showlegend=False))

# ---------------- annotations & shapes ----------------
annotations = []
shapes = []


def txt(x, y, s, size=10, anchor="left", family=SANS, angle=0):
    annotations.append(dict(x=x / W, y=1 - y / H, xref="paper", yref="paper", text=s, showarrow=False,
                            xanchor=anchor, yanchor="middle", textangle=angle,
                            font=dict(family=family, size=size, color="black")))


def path(points, close=True):
    s = "M " + " L ".join(f"{x / W:.5f},{1 - y / H:.5f}" for x, y in points)
    return s + (" Z" if close else "")


def dbl_arrow(x1, y1, x2, y2, hl=7, hw=6.5, sw=2.5):
    dx, dy = x2 - x1, y2 - y1
    L = (dx * dx + dy * dy) ** 0.5
    ux, uy = dx / L, dy / L
    nx, ny = -uy, ux

    def pt(bx, by, a, b):
        return (bx + ux * a + nx * b, by + uy * a + ny * b)
    pts = [(x1, y1), pt(x1, y1, hl, hw), pt(x1, y1, hl, sw), pt(x2, y2, -hl, sw), pt(x2, y2, -hl, hw),
           (x2, y2), pt(x2, y2, -hl, -hw), pt(x2, y2, -hl, -sw), pt(x1, y1, hl, -sw), pt(x1, y1, hl, -hw)]
    shapes.append(dict(type="path", path=path(pts), xref="paper", yref="paper",
                       line=dict(color="black", width=1), fillcolor="rgba(0,0,0,0)", layer="above"))


def head(tx, ty, bx, by, half=2.8):
    dx, dy = tx - bx, ty - by
    L = (dx * dx + dy * dy) ** 0.5
    nx, ny = -dy / L, dx / L
    pts = [(tx, ty), (bx + nx * half, by + ny * half), (bx - nx * half, by - ny * half)]
    shapes.append(dict(type="path", path=path(pts), xref="paper", yref="paper",
                       line=dict(color="black", width=0.5), fillcolor="black", layer="above"))


def squiggle_left(tx, ty):
    pts = [(tx + 2, ty + 1), (tx + 10, ty + 3.5), (tx + 4, ty + 8), (tx + 17, ty + 10.5)]
    shapes.append(dict(type="path", path=path(pts, False), xref="paper", yref="paper",
                       line=dict(color="black", width=1.2), layer="above"))
    head(tx, ty, tx + 6.5, ty + 2)


def squiggle_right(sx, sy):
    pts = [(sx, sy), (sx + 7.5, sy + 4), (sx + 4, sy + 8.5), (sx + 15, sy + 10.2)]
    shapes.append(dict(type="path", path=path(pts, False), xref="paper", yref="paper",
                       line=dict(color="black", width=1.2), layer="above"))
    head(sx + 21, sy + 10.6, sx + 14.5, sy + 10.1)


def tempnote(x_left_text_right, y, ax1, ay1, ax2, ay2, x_right_text, y2, left="100°C", right="-20°C"):
    txt(x_left_text_right, y, left, anchor="right")
    dbl_arrow(ax1, ay1, ax2, ay2)
    txt(x_right_text, y2, right, anchor="left")


# Vds labels
for (x, y, s) in [(74, 25, "Vds=5V"), (311, 25, "Vds=5V"), (74, 307, "Vds=5V"), (311, 307, "Vds=5V"),
                  (74, 589, "Vds=-5V"), (311, 588, "Vds=-5V")]:
    txt(x, y, s, size=11)

# temperature arrows
tempnote(104, 90, 106, 90, 133, 90, 135, 90)
tempnote(164, 117, 166, 117, 189, 135, 190, 137)
tempnote(341, 91, 342, 90, 368, 90, 370, 91)
tempnote(397, 111, 399, 108, 427, 128, 428, 130)
tempnote(100, 372, 102, 372, 142, 372, 144, 372)
tempnote(157, 444, 159, 447, 195, 482, 197, 478)
tempnote(339, 377, 342, 377, 393, 377, 395, 377)
tempnote(407, 439, 399, 447, 428, 492, 428, 507)
tempnote(135, 655, 138, 655, 172, 655, 174, 655, left="-20°C", right="100°C")
txt(117, 722, "100°C")
dbl_arrow(106, 747, 126, 728)
txt(87, 754, "-20°C")
tempnote(373, 655, 375, 655, 408, 655, 412, 655, left="-20°C", right="100°C")
txt(353, 724, "100°C")
dbl_arrow(342, 748, 362, 730)
txt(323, 757, "-20°C")

# squiggle arrows
for (tx, ty) in [(104, 47), (340, 47), (113, 328), (350, 338), (102, 609), (337, 613)]:
    squiggle_left(tx, ty)
for (sx, sy) in [(200, 96), (440, 95), (214, 457), (446, 457), (101, 678), (338, 683)]:
    squiggle_right(sx, sy)

# temperature-dependence panel texts
for (y1, y2, s1, s2) in [(25, 38, "Vgs=5V", "Vds=5V"), (306, 319, "Vgs=5V", "Vds=5V"),
                         (589, 602, "Vgs=-5V", "Vds=-5V")]:
    txt(603, y1, s1, size=11)
    txt(603, y2, s2, size=11)
txt(603, 116, "L<sub>LDD</sub>=1.0μm", size=11)
txt(603, 137, "L<sub>LDD</sub>=1.5μm", size=11)
txt(603, 378, "L<sub>Offset</sub>=1.0μm", size=11)
txt(603, 449, "L<sub>Offset</sub>=1.5μm", size=11)
txt(603, 672, "L<sub>LDD</sub>=1.0μm", size=11)
txt(603, 701, "L<sub>LDD</sub>=1.5μm", size=11)

# axis titles
for (yv, yt) in [(232, 237), (515, 517), (797, 800)]:
    txt(146.5, yv, "Vgs (V)", size=11, anchor="center")
    txt(383, yv, "Vgs (V)", size=11, anchor="center")
    txt(657.5, yt, "T (°C)", size=11, anchor="center")
for yc in [109, 390, 672]:
    txt(8, yc, "Ids (A)", size=11, anchor="center", angle=-90)
    txt(538, yc + 1, "Ids (A)", size=11, anchor="center", angle=-90)
txt(264, 106, "Ids (mA)", size=11, anchor="center", angle=-90)
txt(504, 109, "Ids (mA)", size=11, anchor="center", angle=-90)
for yc in [389, 670]:
    txt(264, yc, "Ids (μA)", size=11, anchor="center", angle=-90)
    txt(504, yc, "Ids (μA)", size=11, anchor="center", angle=-90)

# captions
txt(135, 253, "L<sub>LDD</sub>=1.0μm", size=11, anchor="center", family=SERIF)
txt(400, 253, "L<sub>LDD</sub>=1.5μm", size=11, anchor="center", family=SERIF)
txt(635, 252, "Temperature dependence", size=11, anchor="center", family=SERIF)
txt(359, 275, "(a) n-type LDD TFTs", size=11, anchor="center", family=SERIF)
txt(136, 535, "L<sub>Offset</sub>=1.0μm", size=11, anchor="center", family=SERIF)
txt(401, 535, "L<sub>Offset</sub>=1.5μm", size=11, anchor="center", family=SERIF)
txt(635, 534, "Temperature dependence", size=11, anchor="center", family=SERIF)
txt(370, 555, "(b) n-type offset TFTs", size=11, anchor="center", family=SERIF)
txt(135, 817, "L<sub>LDD</sub>=1.0μm", size=11, anchor="center", family=SERIF)
txt(402, 816, "L<sub>LDD</sub>=1.5μm", size=11, anchor="center", family=SERIF)
txt(635, 816, "Temperature dependence", size=11, anchor="center", family=SERIF)
txt(362, 838, "(c) n-type LDD TFTs", size=11, anchor="center", family=SERIF)

fig.update_layout(**layout)
fig.update_layout(
    template="none", width=W, height=H, autosize=False,
    margin=dict(l=0, r=0, t=0, b=0, pad=0),
    paper_bgcolor="white", plot_bgcolor="rgba(0,0,0,0)",
    font=dict(family=SANS, size=10, color="black"),
    showlegend=False, annotations=annotations, shapes=shapes,
)
fig.write_html("out.html")
